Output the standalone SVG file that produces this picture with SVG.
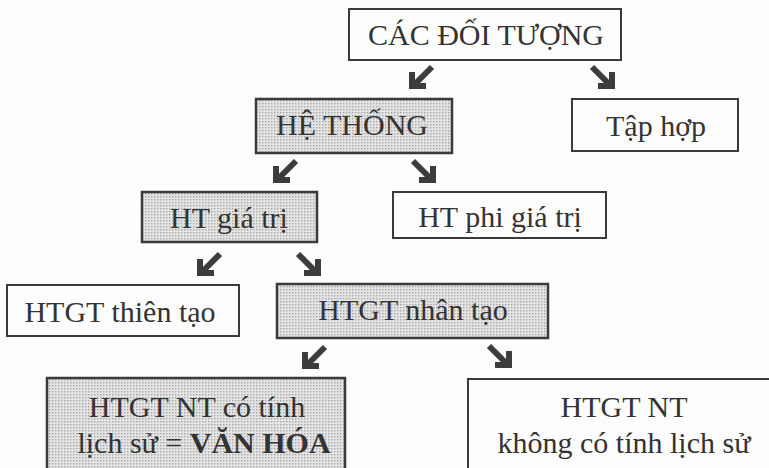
<svg xmlns="http://www.w3.org/2000/svg" width="769" height="468" viewBox="0 0 769 468">
<defs>
<pattern id="dots" width="3" height="3" patternUnits="userSpaceOnUse">
<rect width="3" height="3" fill="#e4e4e4"/>
<rect x="1" y="1" width="1.4" height="1.4" fill="#a6a6a6"/>
</pattern>
<g id="arr">
<path d="M-19,-18 L-1,0" fill="none" stroke="#3c3c3c" stroke-width="6"/>
<path d="M-13,1 L1,1 L1,-13" fill="none" stroke="#3c3c3c" stroke-width="6" stroke-linejoin="miter"/>
</g>
</defs>
<style>
.box{fill:#fdfdfd;stroke:#3a3a3a;stroke-width:2}
.sh{fill:url(#dots);stroke:#3a3a3a;stroke-width:2.5}
.t{font-family:"Liberation Serif","Times New Roman",serif;font-size:30px;fill:#333;text-anchor:middle}
</style>
<rect width="769" height="468" fill="#fdfdfd"/>
<g id="n-objects"><rect class="box" x="349" y="9" width="272" height="51"/><text class="t" x="486" y="45">CÁC ĐỐI TƯỢNG</text></g>
<g id="n-system"><rect class="sh" x="256" y="99" width="196" height="54"/><text class="t" x="352" y="135">HỆ THỐNG</text></g>
<g id="n-set"><rect class="box" x="572" y="99" width="166" height="52"/><text class="t" x="656" y="136">Tập hợp</text></g>
<g id="n-value"><rect class="sh" x="142" y="192" width="175" height="50"/><text class="t" x="229" y="228">HT giá trị</text></g>
<g id="n-nonvalue"><rect class="box" x="393" y="192" width="213" height="46"/><text class="t" x="500" y="227">HT phi giá trị</text></g>
<g id="n-natural"><rect class="box" x="7" y="285" width="232" height="51"/><text class="t" x="120" y="322">HTGT thiên tạo</text></g>
<g id="n-artificial"><rect class="sh" x="277" y="284" width="271" height="54"/><text class="t" x="413" y="320">HTGT nhân tạo</text></g>
<g id="n-culture"><rect class="sh" x="47" y="378" width="298" height="100"/><text class="t" x="197" y="417">HTGT NT có tính</text><text class="t" x="204" y="453">lịch sử = <tspan font-weight="bold">VĂN HÓA</tspan></text></g>
<g id="n-nonhist"><rect class="box" x="468" y="379" width="310" height="100"/><text class="t" x="624" y="417">HTGT NT</text><text class="t" x="624" y="453">không có tính lịch sử</text></g>
<g id="connectors">
<use href="#arr" transform="translate(413,85) scale(-1,1)"/>
<use href="#arr" transform="translate(611,85)"/>
<use href="#arr" transform="translate(277,179) scale(-1,1)"/>
<use href="#arr" transform="translate(432,179)"/>
<use href="#arr" transform="translate(201,272) scale(-1,1)"/>
<use href="#arr" transform="translate(317,272)"/>
<use href="#arr" transform="translate(306,365) scale(-1,1)"/>
<use href="#arr" transform="translate(508,364)"/>
</g>
</svg>
